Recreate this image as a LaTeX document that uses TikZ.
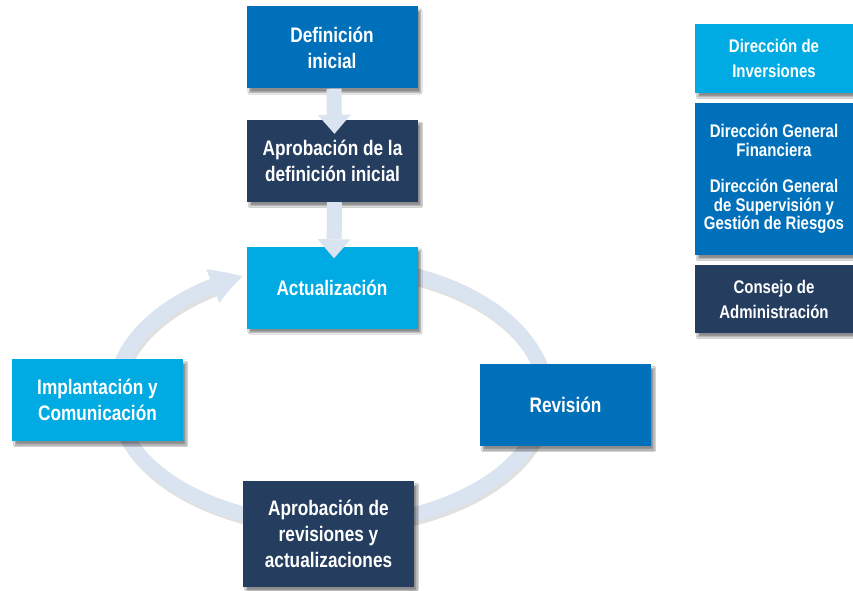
\documentclass[tikz,border=0pt]{standalone}
\usepackage{fontspec}
\newfontfamily\narrowfont[FakeStretch=0.82]{Liberation Sans}
\usetikzlibrary{arrows.meta,bending,shadows,shadows.blur}
\definecolor{midblue}{RGB}{0,112,186}
\definecolor{navy}{RGB}{37,62,96}
\definecolor{skyblue}{RGB}{0,170,226}
\definecolor{pale}{RGB}{218,227,240}
\tikzset{
  box/.style={minimum width=171pt, minimum height=82pt, inner sep=0pt, align=center,
    text=white, font=\narrowfont\bfseries\fontsize{21}{26}\selectfont,
    blur shadow={shadow xshift=3pt, shadow yshift=-4pt, shadow blur steps=6, shadow opacity=45}},
  sidebox/.style={box, minimum width=158pt, font=\narrowfont\bfseries\fontsize{18.3}{25}\selectfont},
  densebox/.style={box, minimum width=158pt, font=\narrowfont\bfseries\fontsize{18.3}{18.5}\selectfont},
  flow/.style={draw=pale, line width=15pt, -{Triangle[length=19pt,width=33pt,line width=0pt]}},
  ring/.style={draw=pale, line width=15pt},
}
\begin{document}
\begin{tikzpicture}[x=1pt,y=1pt]
\useasboundingbox (0,0) rectangle (853,590);
\fill[white] (0,0) rectangle (853,590);
% cycle ring
\coordinate (c) at (330,195);
\coordinate (cs) at (332,192);
\draw[black, opacity=0.12, line width=15pt] (cs) ++(70:215 and 130)
  arc[start angle=70, end angle=-240, x radius=215, y radius=130];
\draw[ring, -{Triangle[length=32pt,width=36pt,line width=0pt,bend]}] (c) ++(70:215 and 130)
  arc[start angle=70, end angle=-246, x radius=215, y radius=130];
% main boxes
\node[box, fill=midblue] (def) at (332,542.5) {Definición\\inicial};
\node[box, fill=navy] (apd) at (332.5,429) {Aprobación de la\\definición inicial};
\node[box, fill=skyblue] (act) at (332,302.5) {Actualización};
\node[box, fill=skyblue] (imp) at (97.5,190) {Implantación y\\Comunicación};
\node[box, fill=midblue] (rev) at (565.5,185) {Revisión};
\node[box, fill=navy, minimum height=106pt] (apr) at (328.5,56) {Aprobación de\\revisiones y\\actualizaciones};
% side legend
\node[sidebox, fill=skyblue, minimum height=69pt] (dinv) at (774,531.5) {Dirección de\\Inversiones};
\node[densebox, fill=midblue, minimum height=152pt] (dgf) at (774,411) {Dirección General\\Financiera\\[18pt]Dirección General\\de Supervisión y\\Gestión de Riesgos};
\node[sidebox, fill=navy, minimum height=68pt] (cons) at (774,291) {Consejo de\\Administración};
% vertical flow arrows
\draw[flow] ([xshift=2pt]def.south) -- ([xshift=2pt,yshift=-14pt]apd.north);
\draw[flow] ([xshift=2pt]apd.south) -- ([xshift=2pt,yshift=-12pt]act.north);
\end{tikzpicture}
\end{document}
